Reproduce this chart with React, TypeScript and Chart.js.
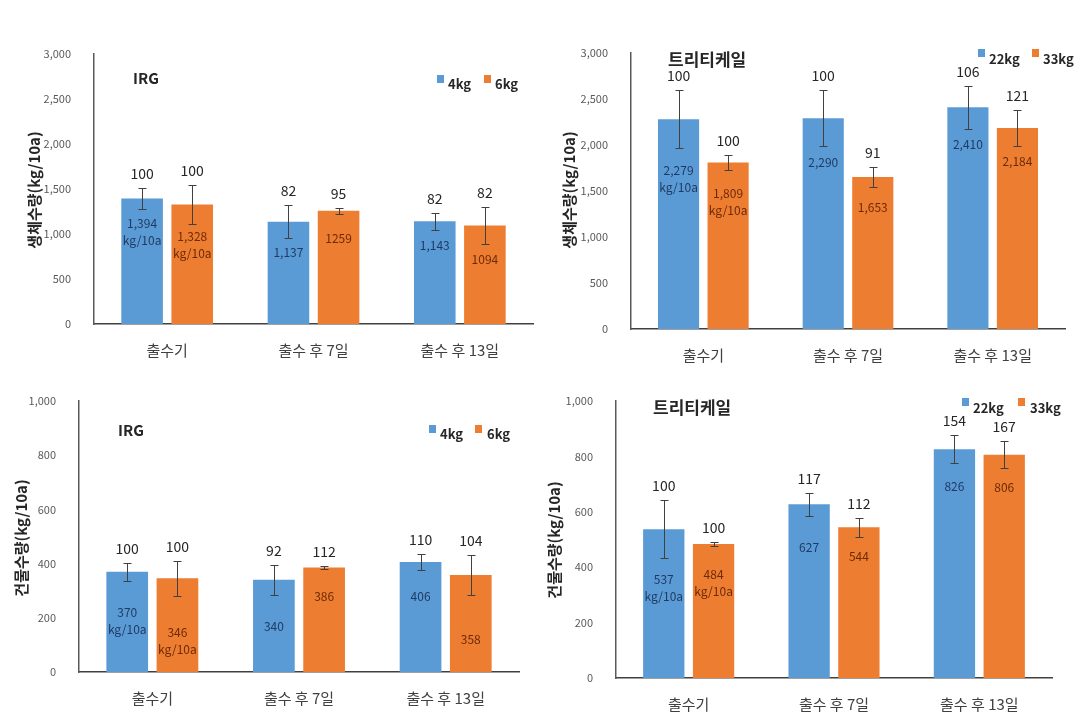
import React, { useEffect, useRef } from 'react';
import { Chart, registerables } from 'chart.js';

Chart.register(...registerables);

const FONT = "'Noto Sans CJK KR', 'Noto Sans', sans-serif";

// ---------- data ----------
const categories = ['출수기', '출수 후 7일', '출수 후 13일'];

// 생체수량 IRG
const freshIrg4kg = [1394, 1137, 1143];
const freshIrg6kg = [1328, 1259, 1094];
const freshIrg4kgErr = [115, 183, 94];
const freshIrg6kgErr = [222, 33, 203];
const freshIrg4kgPct = [100, 82, 82];
const freshIrg6kgPct = [100, 95, 82];
const freshIrg4kgText = ['1,394\nkg/10a', '1,137', '1,143'];
const freshIrg6kgText = ['1,328\nkg/10a', '1259', '1094'];

// 생체수량 트리티케일
const freshTri22kg = [2279, 2290, 2410];
const freshTri33kg = [1809, 1653, 2184];
const freshTri22kgErr = [314, 305, 232];
const freshTri33kgErr = [86, 111, 194];
const freshTri22kgPct = [100, 100, 106];
const freshTri33kgPct = [100, 91, 121];
const freshTri22kgText = ['2,279\nkg/10a', '2,290', '2,410'];
const freshTri33kgText = ['1,809\nkg/10a', '1,653', '2,184'];

// 건물수량 IRG
const dryIrg4kg = [370, 340, 406];
const dryIrg6kg = [346, 386, 358];
const dryIrg4kgErr = [34, 55, 31];
const dryIrg6kgErr = [65, 6, 75];
const dryIrg4kgPct = [100, 92, 110];
const dryIrg6kgPct = [100, 112, 104];
const dryIrg4kgText = ['370\nkg/10a', '340', '406'];
const dryIrg6kgText = ['346\nkg/10a', '386', '358'];

// 건물수량 트리티케일
const dryTri22kg = [537, 627, 826];
const dryTri33kg = [484, 544, 806];
const dryTri22kgErr = [105, 42, 50];
const dryTri33kgErr = [8, 34, 48];
const dryTri22kgPct = [100, 117, 154];
const dryTri33kgPct = [100, 112, 167];
const dryTri22kgText = ['537\nkg/10a', '627', '826'];
const dryTri33kgText = ['484\nkg/10a', '544', '806'];

// ---------- style / layout ----------
const BLUE = '#5B9BD5';
const ORANGE = '#ED7D31';
const BLUE_TEXT = '#1F3B63';
const ORANGE_TEXT = '#6E2A06';

type Series = {
  name: string;
  data: number[];
  err: number[];
  pct: number[];
  text: string[];
  offsets: number[];
  color: string;
  textColor: string;
};

type Panel = {
  left: number;
  top: number;
  width: number;
  height: number;
  area: { l: number; t: number; r: number; b: number };
  yMax: number;
  yStep: number;
  yTitle: string;
  yTitleX: number;
  yTitleY: number;
  title: string;
  titleX: number;
  titleY: number;
  titleFont: string;
  legendSq: [number, number];
  legendText: [number, number];
  legendSqY: number;
  legendTextY: number;
  series: Series[];
};

const panels: Panel[] = [
  {
    left: 0, top: 0, width: 540, height: 375,
    area: { l: 94, t: 54, r: 533, b: 324 },
    yMax: 3000, yStep: 500,
    yTitle: '생체수량(kg/10a)', yTitleX: 34, yTitleY: 190,
    title: 'IRG', titleX: 133, titleY: 78, titleFont: `bold 15px ${FONT}`,
    legendSq: [437, 484], legendText: [448, 495], legendSqY: 75, legendTextY: 84,
    series: [
      { name: '4kg', data: freshIrg4kg, err: freshIrg4kgErr, pct: freshIrg4kgPct, text: freshIrg4kgText, offsets: [33, 31, 24], color: BLUE, textColor: BLUE_TEXT },
      { name: '6kg', data: freshIrg6kg, err: freshIrg6kgErr, pct: freshIrg6kgPct, text: freshIrg6kgText, offsets: [40, 28, 34], color: ORANGE, textColor: ORANGE_TEXT },
    ],
  },
  {
    left: 540, top: 0, width: 537, height: 375,
    area: { l: 91, t: 53, r: 525, b: 329 },
    yMax: 3000, yStep: 500,
    yTitle: '생체수량(kg/10a)', yTitleX: 29, yTitleY: 190,
    title: '트리티케일', titleX: 128, titleY: 60, titleFont: `bold 17px ${FONT}`,
    legendSq: [438, 492], legendText: [449, 503], legendSqY: 49, legendTextY: 59,
    series: [
      { name: '22kg', data: freshTri22kg, err: freshTri22kgErr, pct: freshTri22kgPct, text: freshTri22kgText, offsets: [60, 44, 37], color: BLUE, textColor: BLUE_TEXT },
      { name: '33kg', data: freshTri33kg, err: freshTri33kgErr, pct: freshTri33kgPct, text: freshTri33kgText, offsets: [39, 31, 33], color: ORANGE, textColor: ORANGE_TEXT },
    ],
  },
  {
    left: 0, top: 375, width: 540, height: 348,
    area: { l: 79, t: 26, r: 519, b: 297 },
    yMax: 1000, yStep: 200,
    yTitle: '건물수량(kg/10a)', yTitleX: 21, yTitleY: 163,
    title: 'IRG', titleX: 118, titleY: 55, titleFont: `bold 15px ${FONT}`,
    legendSq: [429, 475], legendText: [440, 487], legendSqY: 50, legendTextY: 59,
    series: [
      { name: '4kg', data: dryIrg4kg, err: dryIrg4kgErr, pct: dryIrg4kgPct, text: dryIrg4kgText, offsets: [49, 47, 34], color: BLUE, textColor: BLUE_TEXT },
      { name: '6kg', data: dryIrg6kg, err: dryIrg6kgErr, pct: dryIrg6kgPct, text: dryIrg6kgText, offsets: [63, 29, 64], color: ORANGE, textColor: ORANGE_TEXT },
    ],
  },
  {
    left: 540, top: 375, width: 537, height: 348,
    area: { l: 76, t: 26, r: 512, b: 303 },
    yMax: 1000, yStep: 200,
    yTitle: '건물수량(kg/10a)', yTitleX: 14, yTitleY: 165,
    title: '트리티케일', titleX: 113, titleY: 33, titleFont: `bold 17px ${FONT}`,
    legendSq: [422, 478], legendText: [433, 490], legendSqY: 23, legendTextY: 33,
    series: [
      { name: '22kg', data: dryTri22kg, err: dryTri22kgErr, pct: dryTri22kgPct, text: dryTri22kgText, offsets: [59, 43, 37], color: BLUE, textColor: BLUE_TEXT },
      { name: '33kg', data: dryTri33kg, err: dryTri33kgErr, pct: dryTri33kgPct, text: dryTri33kgText, offsets: [39, 29, 33], color: ORANGE, textColor: ORANGE_TEXT },
    ],
  },
];

function overlayPlugin(p: Panel) {
  return {
    id: 'overlay',
    afterDatasetsDraw(chart: any) {
      const ctx: CanvasRenderingContext2D = chart.ctx;
      const yScale = chart.scales.y;
      ctx.save();
      p.series.forEach((s, di) => {
        const meta = chart.getDatasetMeta(di);
        meta.data.forEach((bar: any, i: number) => {
          const x = Math.round(bar.x) + 0.5;
          // in-bar value label
          ctx.font = `12px ${FONT}`;
          ctx.fillStyle = s.textColor;
          ctx.textAlign = 'center';
          ctx.textBaseline = 'middle';
          const lines = s.text[i].split('\n');
          const cy = bar.y + s.offsets[i];
          const lh = 17;
          lines.forEach((ln, k) => {
            ctx.fillText(ln, bar.x, cy + (k - (lines.length - 1) / 2) * lh);
          });
          // error bar
          const v = s.data[i];
          const e = s.err[i];
          const yTop = Math.round(yScale.getPixelForValue(v + e)) + 0.5;
          const yBot = Math.round(yScale.getPixelForValue(v - e)) + 0.5;
          ctx.strokeStyle = '#404040';
          ctx.lineWidth = 1;
          ctx.beginPath();
          ctx.moveTo(x, yTop);
          ctx.lineTo(x, yBot);
          ctx.moveTo(x - 4, yTop);
          ctx.lineTo(x + 4, yTop);
          ctx.moveTo(x - 4, yBot);
          ctx.lineTo(x + 4, yBot);
          ctx.stroke();
          // percent label
          ctx.font = `14px ${FONT}`;
          ctx.fillStyle = '#262626';
          ctx.fillText(String(s.pct[i]), bar.x, yTop - 15);
        });
      });
      // title
      ctx.font = p.titleFont;
      ctx.fillStyle = '#262626';
      ctx.textAlign = 'left';
      ctx.textBaseline = 'middle';
      ctx.fillText(p.title, p.titleX, p.titleY);
      // legend
      p.series.forEach((s, di) => {
        ctx.fillStyle = s.color;
        ctx.fillRect(p.legendSq[di], p.legendSqY, 7, 8);
        ctx.font = `bold 13px ${FONT}`;
        ctx.fillStyle = '#262626';
        ctx.textAlign = 'left';
        ctx.fillText(s.name, p.legendText[di], p.legendTextY);
      });
      // y title
      ctx.translate(p.yTitleX, p.yTitleY);
      ctx.rotate(-Math.PI / 2);
      ctx.font = `bold 15px ${FONT}`;
      ctx.fillStyle = '#262626';
      ctx.textAlign = 'center';
      ctx.textBaseline = 'middle';
      ctx.fillText(p.yTitle, 0, 0);
      ctx.restore();
    },
  };
}

function PanelChart({ p }: { p: Panel }) {
  const ref = useRef<HTMLCanvasElement>(null);
  useEffect(() => {
    if (!ref.current) return;
    const chart = new Chart(ref.current, {
      type: 'bar',
      data: {
        labels: categories,
        datasets: p.series.map((s) => ({
          label: s.name,
          data: s.data,
          backgroundColor: s.color,
          borderWidth: 0,
          barPercentage: 0.83,
          categoryPercentage: 0.685,
        })),
      },
      options: {
        responsive: false,
        animation: false,
        events: [],
        layout: {
          padding: { left: 0, top: p.area.t, right: p.width - p.area.r, bottom: 0 },
        },
        plugins: {
          legend: { display: false },
          tooltip: { enabled: false },
          title: { display: false },
        },
        scales: {
          x: {
            grid: { display: false },
            border: { display: true, color: '#404040', width: 1.5 },
            ticks: { color: '#404040', font: { family: FONT, size: 15 }, padding: 9, maxRotation: 0 },
            afterFit: (scale: any) => {
              scale.height = p.height - p.area.b;
            },
          },
          y: {
            min: 0,
            max: p.yMax,
            grid: { display: false },
            border: { display: true, color: '#595959', width: 1.5 },
            ticks: {
              stepSize: p.yStep,
              color: '#595959',
              font: { family: FONT, size: 11 },
              padding: 15,
              callback: (v: any) => Number(v).toLocaleString('en-US'),
            },
            afterFit: (scale: any) => {
              scale.width = p.area.l;
            },
          },
        },
      },
      plugins: [overlayPlugin(p)],
    } as any);
    return () => chart.destroy();
  }, [p]);
  return (
    <canvas
      ref={ref}
      width={p.width}
      height={p.height}
      style={{ position: 'absolute', left: p.left, top: p.top, width: p.width, height: p.height }}
    />
  );
}

export default function App() {
  return (
    <div style={{ position: 'absolute', left: 0, top: 0, width: 1077, height: 723, background: '#fff' }}>
      {panels.map((p, i) => (
        <PanelChart key={i} p={p} />
      ))}
    </div>
  );
}
